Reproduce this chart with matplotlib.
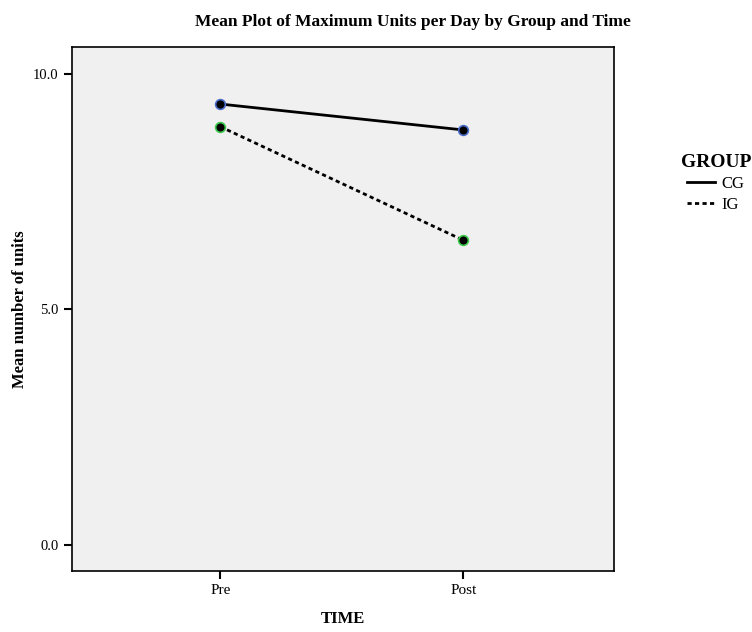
import matplotlib.pyplot as plt
from matplotlib.lines import Line2D

plt.rcParams['font.family'] = ['Liberation Serif', 'DejaVu Serif']

# data
times = ['Pre', 'Post']
groups = ['CG', 'IG']
cg_means = [9.36, 8.81]
ig_means = [8.88, 6.47]
y_ticks = [0.0, 5.0, 10.0]

fig = plt.figure(figsize=(7.52, 6.32), dpi=100)
ax = fig.add_axes([0.0957, 0.0965, 0.7208, 0.8291])
ax.set_facecolor('#f0f0f0')

x = range(len(times))
ax.plot(x, cg_means, color='black', lw=2, ls='-', marker='o', ms=7,
        mfc='black', mec='#4a6bc8', mew=1.2)
ax.plot(x, ig_means, color='black', lw=2, ls=(0, (1.5, 1.2)), marker='o', ms=7,
        mfc='black', mec='#3cc84a', mew=1.2)

ax.set_xlim(-0.61, 1.62)
ax.set_ylim(-0.55, 10.57)
ax.set_xticks(list(x))
ax.set_xticklabels(times, fontsize=11)
ax.set_yticks(y_ticks)
ax.set_yticklabels(['%.1f' % v for v in y_ticks], fontsize=10.5)
ax.tick_params(direction='out', length=6, width=1.5, color='black')
for s in ax.spines.values():
    s.set_linewidth(1.2)

ax.set_xlabel('TIME', fontsize=12, fontweight='bold', labelpad=10)
ax.set_ylabel('Mean number of units', fontsize=12, fontweight='bold', labelpad=4)
fig.text(0.549, 0.965, 'Mean Plot of Maximum Units per Day by Group and Time',
         ha='center', va='center', fontsize=12.5, fontweight='bold')

handles = [Line2D([], [], color='black', lw=2, ls='-'),
           Line2D([], [], color='black', lw=2, ls=(0, (1.5, 1.2)))]
leg = fig.legend(handles, groups, title='GROUP', loc='upper left',
                 bbox_to_anchor=(0.885, 0.78), frameon=False, fontsize=12,
                 handlelength=1.7, handletextpad=0.4, labelspacing=0.3,
                 title_fontproperties={'weight': 'bold', 'size': 14,
                                       'family': 'Liberation Serif'})

fig.savefig('out.png', dpi=100)
